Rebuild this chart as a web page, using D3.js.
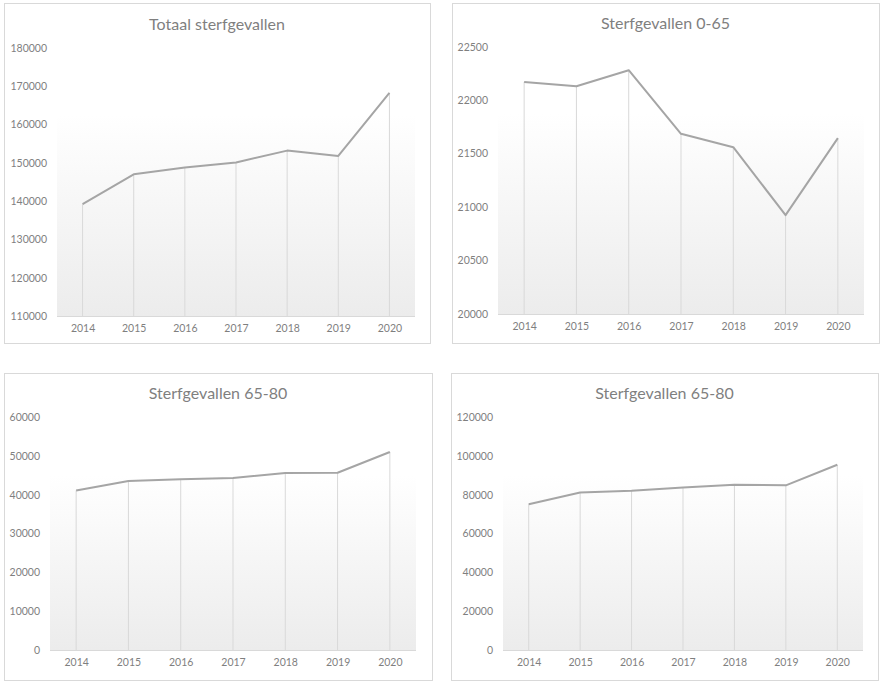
<!DOCTYPE html>
<html>
<head>
<meta charset="utf-8">
<script src="https://cdn.jsdelivr.net/npm/d3@7"></script>
<style>
  body { margin: 0; background: #fff; }
  text { font-family: Lato, "Open Sans", sans-serif; }
</style>
</head>
<body>
<div id="chart"></div>
<script>
// data
const years = ['2014', '2015', '2016', '2017', '2018', '2019', '2020']
const totaal = [139200, 147000, 148800, 150100, 153200, 151800, 168300]
const age0to65 = [22170, 22130, 22280, 21685, 21560, 20925, 21645]
const age65to80 = [41100, 43500, 44000, 44300, 45600, 45650, 51000]
const age65to80b = [75100, 81100, 82000, 83700, 85100, 84800, 95400]

const titles = ['Totaal sterfgevallen', 'Sterfgevallen 0-65', 'Sterfgevallen 65-80', 'Sterfgevallen 65-80']
const yTicks1 = [110000, 120000, 130000, 140000, 150000, 160000, 170000, 180000]
const yTicks2 = [20000, 20500, 21000, 21500, 22000, 22500]
const yTicks3 = [0, 10000, 20000, 30000, 40000, 50000, 60000]
const yTicks4 = [0, 20000, 40000, 60000, 80000, 100000, 120000]

// panel layout (boxes and plot areas, in page pixels)
const panels = [
    { title: titles[0], values: totaal, ticks: yTicks1, box: [4, 3, 430, 343], px: [57, 415], py: [48, 316], ty: 30 },
    { title: titles[1], values: age0to65, ticks: yTicks2, box: [452, 3, 879, 343], px: [498, 864], py: [46.7, 314], ty: 29 },
    { title: titles[2], values: age65to80, ticks: yTicks3, box: [4, 373, 432, 680], px: [50, 416], py: [417, 650], ty: 399 },
    { title: titles[3], values: age65to80b, ticks: yTicks4, box: [451, 373, 878, 680], px: [503, 863], py: [417, 650], ty: 399 }
]

const width = 881
const height = 681
const textColor = '#7f7f7f'
const gridColor = '#d9d9d9'
const lineColor = '#a5a5a5'

const svg = d3.select('#chart').append('svg')
    .attr('width', width)
    .attr('height', height)

// plot area gradient, white at top to light grey at bottom
const grad = svg.append('defs').append('linearGradient')
    .attr('id', 'plotFill')
    .attr('x1', 0).attr('y1', 0).attr('x2', 0).attr('y2', 1)
grad.append('stop').attr('offset', '0%').attr('stop-color', '#ffffff')
grad.append('stop').attr('offset', '25%').attr('stop-color', '#ffffff')
grad.append('stop').attr('offset', '100%').attr('stop-color', '#ececec')

panels.forEach(p => {
    const g = svg.append('g')

    // chart frame
    g.append('rect')
        .attr('x', p.box[0] + 0.5)
        .attr('y', p.box[1] + 0.5)
        .attr('width', p.box[2] - p.box[0])
        .attr('height', p.box[3] - p.box[1])
        .attr('fill', '#fff')
        .attr('stroke', gridColor)

    const x = d3.scalePoint()
        .domain(years)
        .range(p.px)
        .padding(0.5)

    const y = d3.scaleLinear()
        .domain(d3.extent(p.ticks))
        .range([p.py[1], p.py[0]])

    // plot background
    g.append('rect')
        .attr('x', p.px[0])
        .attr('y', p.py[0])
        .attr('width', p.px[1] - p.px[0])
        .attr('height', p.py[1] - p.py[0])
        .attr('fill', 'url(#plotFill)')

    // title
    g.append('text')
        .attr('x', (p.box[0] + p.box[2]) / 2)
        .attr('y', p.ty)
        .attr('text-anchor', 'middle')
        .attr('font-size', 16)
        .attr('fill', textColor)
        .text(p.title)

    // drop lines from each point down to the axis
    g.selectAll('.drop')
        .data(p.values)
        .join('line')
        .attr('x1', (d, i) => x(years[i]))
        .attr('x2', (d, i) => x(years[i]))
        .attr('y1', d => y(d))
        .attr('y2', y.range()[0])
        .attr('stroke', gridColor)
        .attr('stroke-width', 1)

    // y axis labels
    const yAxis = g.append('g')
        .attr('transform', `translate(${p.px[0]},0)`)
        .call(d3.axisLeft(y).tickValues(p.ticks).tickSize(0).tickPadding(10).tickFormat(d3.format('d')))
    yAxis.select('.domain').remove()
    yAxis.selectAll('text')
        .attr('fill', textColor)
        .attr('font-size', 10.5)
        .style('font-family', 'Lato, "Open Sans", sans-serif')

    // x axis
    const xAxis = g.append('g')
        .attr('transform', `translate(0,${p.py[1]})`)
        .call(d3.axisBottom(x).tickSize(0).tickPadding(9))
    xAxis.select('.domain')
        .attr('stroke', gridColor)
        .attr('d', `M${p.px[0]},0.5H${p.px[1]}`)
    xAxis.selectAll('text')
        .attr('fill', textColor)
        .attr('font-size', 10.5)
        .style('font-family', 'Lato, "Open Sans", sans-serif')

    // the series line
    const line = d3.line()
        .x((d, i) => x(years[i]))
        .y(d => y(d))

    g.append('path')
        .datum(p.values)
        .attr('d', line)
        .attr('fill', 'none')
        .attr('stroke', lineColor)
        .attr('stroke-width', 2)
        .attr('stroke-linejoin', 'round')
})
</script>
</body>
</html>
